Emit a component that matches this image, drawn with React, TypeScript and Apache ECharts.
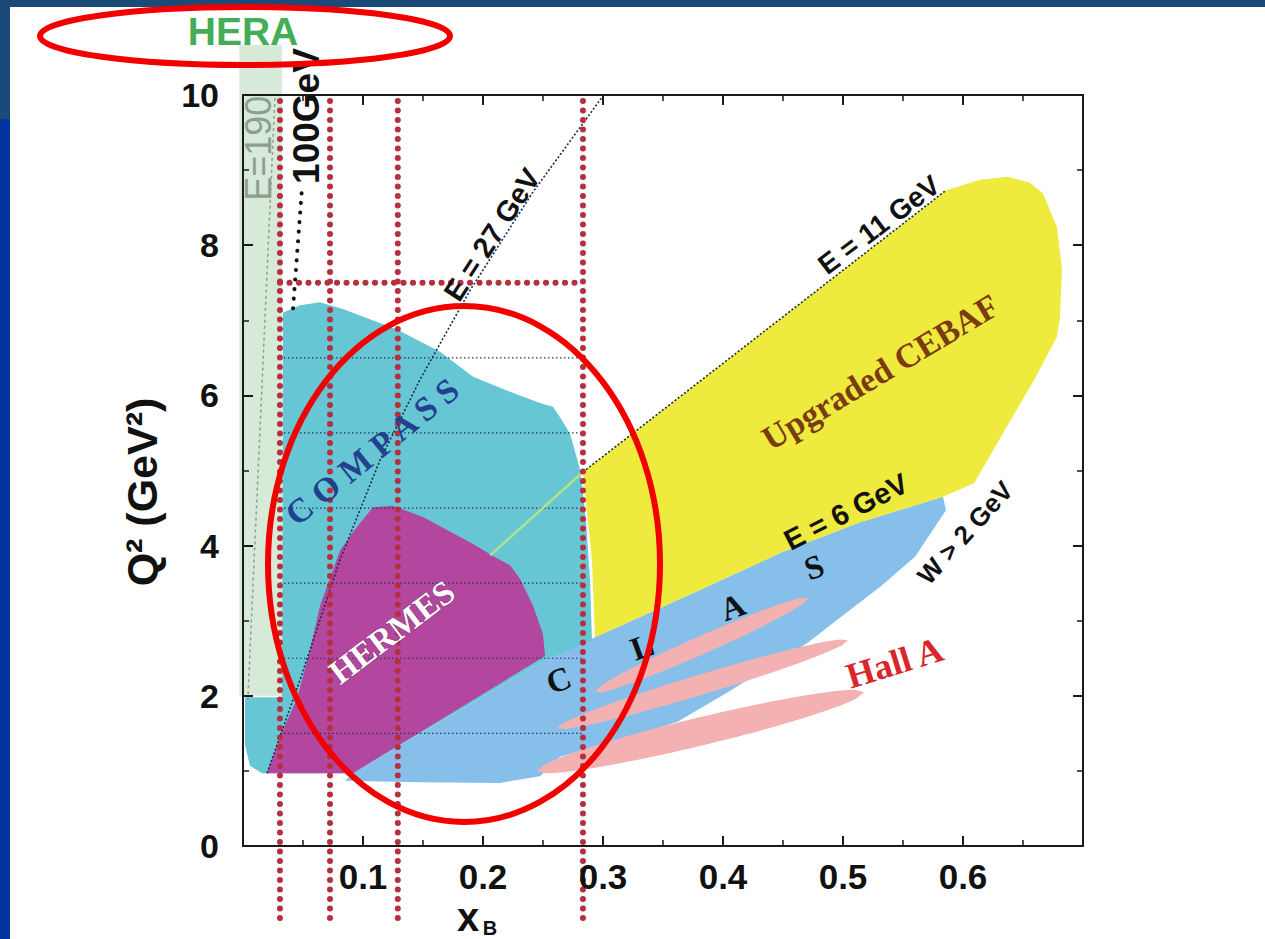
import React, { useEffect, useRef } from 'react';
import * as echarts from 'echarts';

// ---------- axis ----------
const xMin = 0;
const xMax = 0.7;
const xStep = 0.1;
const yMin = 0;
const yMax = 10;
const yStep = 2;

// ---------- regions (x_B, Q^2) ----------
const heraBand = [[-0.003, 2], [0.0325, 2], [0.0325, 10.67], [-0.003, 10.67]];

const compassRegion = [
  [0.0333, 7.10], [0.0475, 7.20], [0.0642, 7.24], [0.085, 7.14], [0.1292, 6.87],
  [0.1642, 6.58], [0.1917, 6.25], [0.2225, 6.05], [0.2475, 5.90], [0.2583, 5.85],
  [0.2658, 5.67], [0.2725, 5.49], [0.2808, 5.02], [0.2858, 4.34], [0.2892, 3.54],
  [0.2908, 2.74], [0.2517, 2.48], [0.0917, 0.97], [0.0158, 0.97], [0.0058, 1.07],
  [0.0017, 1.34], [0.0017, 1.98], [0.0325, 1.98],
];

const hermesRegion = [
  [0.02, 0.97], [0.0308, 1.45], [0.045, 1.96], [0.0558, 2.61], [0.0642, 3.20],
  [0.0808, 3.93], [0.095, 4.25], [0.1083, 4.51], [0.125, 4.53], [0.15, 4.38],
  [0.1917, 4.02], [0.2083, 3.86], [0.2225, 3.74], [0.2308, 3.56], [0.2417, 3.20],
  [0.25, 2.82], [0.2517, 2.53], [0.0917, 0.97],
];

const clasRegion = [
  [0.5833, 4.65], [0.5142, 4.31], [0.4475, 3.90], [0.3808, 3.41], [0.3308, 3.05],
  [0.2933, 2.78], [0.2517, 2.48], [0.0917, 0.97], [0.085, 0.87], [0.1475, 0.85],
  [0.2142, 0.84], [0.2475, 0.93], [0.2642, 1.19], [0.3142, 1.41], [0.3617, 1.65],
  [0.4033, 2.04], [0.47, 2.70], [0.495, 3.01], [0.5308, 3.45], [0.56, 3.85],
  [0.5858, 4.47],
];

const cebafRegion = [
  [0.2833, 4.98], [0.5858, 8.73], [0.6142, 8.87], [0.6375, 8.91], [0.6558, 8.83],
  [0.6667, 8.69], [0.6783, 8.24], [0.6825, 7.67], [0.6808, 7.04], [0.6783, 6.78],
  [0.66, 6.23], [0.6433, 5.77], [0.6092, 4.83], [0.5833, 4.65], [0.5142, 4.31],
  [0.4475, 3.90], [0.3808, 3.41], [0.3308, 3.05], [0.2933, 2.78], [0.2908, 3.81],
];

// Hall A bands: end points of each elongated band
const hallABand1 = [[0.2933, 2.05], [0.4708, 3.30]];
const hallABand2 = [[0.2617, 1.57], [0.5042, 2.74]];
const hallABand3 = [[0.245, 1.00], [0.5175, 2.05]];

// ---------- kinematic lines ----------
const e27Line = [
  [0.02, 0.97], [0.0475, 2.21], [0.0808, 3.81], [0.1142, 5.14], [0.1475, 6.21],
  [0.1892, 7.40], [0.2417, 8.71], [0.2992, 9.97],
];
const e11Line = [[0.2833, 4.98], [0.5858, 8.73]];
const e11InnerLine = [[0.206, 3.87], [0.2833, 4.98]];
const e100Line = [[0.0417, 7.16], [0.049, 8.73]];
const e190Line = [[0.004, 1.94], [0.0267, 10]];

// ---------- bin grid ----------
const binEdgesX = [0.0308, 0.0725, 0.129, 0.2833];
const binTopQ2 = 7.5;
const binLowQ2 = -0.96;
const binInnerQ2 = [1.5, 2.5, 3.5, 4.5, 5.5, 6.5];

// ---------- annotations ----------
const labelTexts = [
  'HERA', 'E=190', '100GeV', 'E = 27 GeV', 'E = 11 GeV', 'Upgraded CEBAF',
  'C O M P A S S', 'HERMES', 'E = 6 GeV', 'W > 2 GeV', 'C', 'L', 'A', 'S', 'Hall A',
];
const labelPos = [
  [0.0, 10.85], [0.0125, 9.29], [0.0533, 9.72], [0.2075, 8.14], [0.53, 8.27], [0.531, 6.31],
  [0.1075, 5.25], [0.124, 2.85], [0.5025, 4.45], [0.6017, 4.17], [0.263, 2.21], [0.3325, 2.65],
  [0.408, 3.18], [0.476, 3.71], [0.543, 2.44],
];

const SANS = "'Liberation Sans', Arial, sans-serif";
const SERIF = "'Liberation Serif', 'Times New Roman', serif";

const labelStyle: Record<string, any> = {
  'HERA': { rot: 0, color: '#45ad55', size: 39, weight: 'bold', family: SANS },
  'E=190': { rot: 90, color: '#8e9e8f', size: 36, weight: 'normal', family: SANS },
  '100GeV': { rot: 90, color: '#111', size: 37, weight: 'bold', family: SANS },
  'E = 27 GeV': { rot: 57, color: '#111', size: 29, weight: 'bold', family: SANS },
  'E = 11 GeV': { rot: 37, color: '#111', size: 28, weight: 'bold', family: SANS },
  'Upgraded CEBAF': { rot: 31, color: '#7a3a12', size: 34, weight: 'bold', family: SERIF },
  'C O M P A S S': { rot: 39, color: '#23408f', size: 34, weight: 'bold', family: SERIF },
  'HERMES': { rot: 37, color: '#ffffff', size: 34, weight: 'bold', family: SERIF, stroke: 'rgba(90,30,80,0.7)', sw: 1 },
  'E = 6 GeV': { rot: 27, color: '#111', size: 29, weight: 'bold', family: SANS },
  'W > 2 GeV': { rot: 48, color: '#111', size: 26, weight: 'bold', family: SANS },
  'C': { rot: 20, color: '#111', size: 33, weight: 'bold', family: SERIF },
  'L': { rot: 20, color: '#111', size: 33, weight: 'bold', family: SERIF },
  'A': { rot: 20, color: '#111', size: 33, weight: 'bold', family: SERIF },
  'S': { rot: 20, color: '#111', size: 33, weight: 'bold', family: SERIF },
  'Hall A': { rot: 17, color: '#d8262c', size: 36, weight: 'bold', family: SERIF },
};

function regionSeries(pts: number[][], color: string, z: number) {
  return {
    type: 'custom',
    z,
    silent: true,
    clip: false,
    data: pts,
    encode: { x: 0, y: 1 },
    renderItem: (params: any, api: any) => {
      if (params.dataIndex !== 0) return null;
      return {
        type: 'polygon',
        shape: { points: pts.map((p) => api.coord(p)) },
        style: { fill: color },
      };
    },
  };
}

function bandSeries(ends: number[][], halfWidth: number, color: string, z: number) {
  return {
    type: 'custom',
    z,
    silent: true,
    clip: false,
    data: ends,
    encode: { x: 0, y: 1 },
    renderItem: (params: any, api: any) => {
      if (params.dataIndex !== 0) return null;
      const a = api.coord(ends[0]);
      const b = api.coord(ends[1]);
      const cx = (a[0] + b[0]) / 2;
      const cy = (a[1] + b[1]) / 2;
      const len = Math.hypot(b[0] - a[0], b[1] - a[1]);
      const ux = (b[0] - a[0]) / len;
      const uy = (b[1] - a[1]) / len;
      const nx = -uy;
      const ny = ux;
      const N = 40;
      const pts: number[][] = [];
      for (let k = 0; k <= N; k++) {
        const t = -1 + (2 * k) / N;
        const w = halfWidth * Math.sqrt(Math.max(0, 1 - t * t));
        const al = (t * len) / 2;
        pts.push([cx + ux * al + nx * w, cy + uy * al + ny * w]);
      }
      for (let k = N; k >= 0; k--) {
        const t = -1 + (2 * k) / N;
        const w = halfWidth * Math.sqrt(Math.max(0, 1 - t * t));
        const al = (t * len) / 2;
        pts.push([cx + ux * al - nx * w, cy + uy * al - ny * w]);
      }
      return { type: 'polygon', shape: { points: pts }, style: { fill: color } };
    },
  };
}

function lineSeries(pts: number[][], lineStyle: any, z: number) {
  return {
    type: 'line',
    data: pts,
    symbol: 'none',
    silent: true,
    clip: false,
    z,
    lineStyle,
    emphasis: { disabled: true },
  };
}

export default function App() {
  const ref = useRef<HTMLDivElement>(null);

  useEffect(() => {
    if (!ref.current) return;
    const chart = echarts.init(ref.current, undefined, { renderer: 'svg' });

    const redDots = { color: '#b5303e', width: 6, type: [0.1, 9.4], cap: 'round' };
    const thinDots = { color: '#2a2f55', width: 1.2, type: [1.5, 2.5] };

    const series: any[] = [
      regionSeries(heraBand, '#d7e9d7', 2),
      regionSeries(clasRegion, '#85bfea', 3),
      regionSeries(compassRegion, '#66c6d3', 4),
      regionSeries(cebafRegion, '#eeea3e', 5),
      regionSeries(hermesRegion, '#b3479f', 6),
      bandSeries(hallABand1, 9, '#f3b1b2', 7),
      bandSeries(hallABand2, 10, '#f3b1b2', 7),
      bandSeries(hallABand3, 14, '#f3b1b2', 7),
    ];

    binInnerQ2.forEach((q) => {
      series.push(lineSeries([[binEdgesX[0], q], [binEdgesX[binEdgesX.length - 1], q]], thinDots, 8));
    });

    series.push(lineSeries(e190Line, { color: '#8ea08e', width: 1.5, type: [3, 3] }, 9));
    series.push(lineSeries(e27Line, { color: '#1d2a48', width: 1.6, type: [2, 2] }, 9));
    series.push(lineSeries(e11Line, { color: '#1d2a38', width: 1.6, type: [2, 2] }, 9));
    series.push(lineSeries(e11InnerLine, { color: '#b2e28c', width: 2.5 }, 9));
    series.push(lineSeries(e100Line, { color: '#111', width: 4, type: [0.1, 9.5], cap: 'round' }, 9));

    binEdgesX.forEach((x) => {
      series.push(lineSeries([[x, binLowQ2], [x, yMax]], redDots, 10));
    });
    series.push(lineSeries([[binEdgesX[0], binTopQ2], [binEdgesX[binEdgesX.length - 1], binTopQ2]], redDots, 10));

    series.push({
      type: 'custom',
      z: 11,
      silent: true,
      clip: false,
      data: labelPos.map((p, i) => [p[0], p[1], i]),
      encode: { x: 0, y: 1 },
      renderItem: (params: any, api: any) => {
        const i = api.value(2);
        const c = api.coord([api.value(0), api.value(1)]);
        const txt = labelTexts[i];
        const s = labelStyle[txt];
        return {
          type: 'text',
          x: c[0],
          y: c[1],
          rotation: (s.rot * Math.PI) / 180,
          style: {
            text: txt,
            fill: s.color,
            fontSize: s.size,
            fontWeight: s.weight,
            fontFamily: s.family,
            align: 'center',
            verticalAlign: 'middle',
            stroke: s.stroke || 'none',
            lineWidth: s.sw || 0,
          },
        };
      },
    });

    const axisCommon = {
      type: 'value',
      axisLine: { show: true, onZero: false, lineStyle: { color: '#1a1a1a', width: 2 } },
      axisTick: { show: true, inside: true, length: 10, lineStyle: { color: '#1a1a1a', width: 2 } },
      minorTick: { show: true, splitNumber: 2, length: 6, lineStyle: { color: '#1a1a1a', width: 1.5 } },
      splitLine: { show: false },
      minorSplitLine: { show: false },
      z: 20,
    };

    const option: any = {
      animation: false,
      backgroundColor: '#ffffff',
      grid: { left: 243, top: 95, right: 182, bottom: 93, containLabel: false },
      xAxis: [
        {
          ...axisCommon,
          position: 'bottom',
          min: xMin,
          max: xMax,
          interval: xStep,
          axisLabel: {
            margin: 13,
            color: '#111',
            fontSize: 35,
            fontWeight: 'bold',
            fontFamily: SANS,
            formatter: (v: number) => (v > 0.05 && v < 0.65 ? v.toFixed(1) : ''),
          },
        },
        {
          ...axisCommon,
          position: 'top',
          min: xMin,
          max: xMax,
          interval: xStep,
          axisLabel: { show: false },
        },
      ],
      yAxis: [
        {
          ...axisCommon,
          position: 'left',
          min: yMin,
          max: yMax,
          interval: yStep,
          axisLabel: {
            margin: 24,
            color: '#111',
            fontSize: 34,
            fontWeight: 'bold',
            fontFamily: SANS,
          },
        },
        {
          ...axisCommon,
          position: 'right',
          min: yMin,
          max: yMax,
          interval: yStep,
          axisLabel: { show: false },
        },
      ],
      graphic: [
        { type: 'rect', z: 50, shape: { x: 0, y: 0, width: 1265, height: 7 }, style: { fill: '#1b4a78' } },
        { type: 'rect', z: 50, shape: { x: 0, y: 0, width: 10, height: 119 }, style: { fill: '#1b4a78' } },
        { type: 'rect', z: 50, shape: { x: 0, y: 119, width: 10, height: 820 }, style: { fill: '#0334a0' } },
        {
          type: 'text', z: 50, x: 142, y: 492, rotation: Math.PI / 2,
          style: { text: 'Q² (GeV²)', fill: '#111', fontSize: 43, fontWeight: 'bold', fontFamily: SANS, align: 'center', verticalAlign: 'middle' },
        },
        {
          type: 'text', z: 50, x: 468, y: 917,
          style: { text: 'x', fill: '#111', fontSize: 40, fontWeight: 'bold', fontFamily: SANS, align: 'center', verticalAlign: 'middle' },
        },
        {
          type: 'text', z: 50, x: 490, y: 928,
          style: { text: 'B', fill: '#111', fontSize: 20, fontWeight: 'bold', fontFamily: SANS, align: 'center', verticalAlign: 'middle' },
        },
        {
          type: 'ellipse', z: 100, shape: { cx: 245, cy: 36, rx: 205, ry: 29 },
          style: { fill: 'none', stroke: '#f20000', lineWidth: 6 },
        },
        {
          type: 'ellipse', z: 100, shape: { cx: 464, cy: 564, rx: 196, ry: 258 },
          style: { fill: 'none', stroke: '#f20000', lineWidth: 6 },
        },
      ],
      series,
    };

    chart.setOption(option);
    return () => chart.dispose();
  }, []);

  return (
    <div
      ref={ref}
      style={{ position: 'absolute', left: 0, top: 0, width: 1265, height: 939, background: '#fff' }}
    />
  );
}
